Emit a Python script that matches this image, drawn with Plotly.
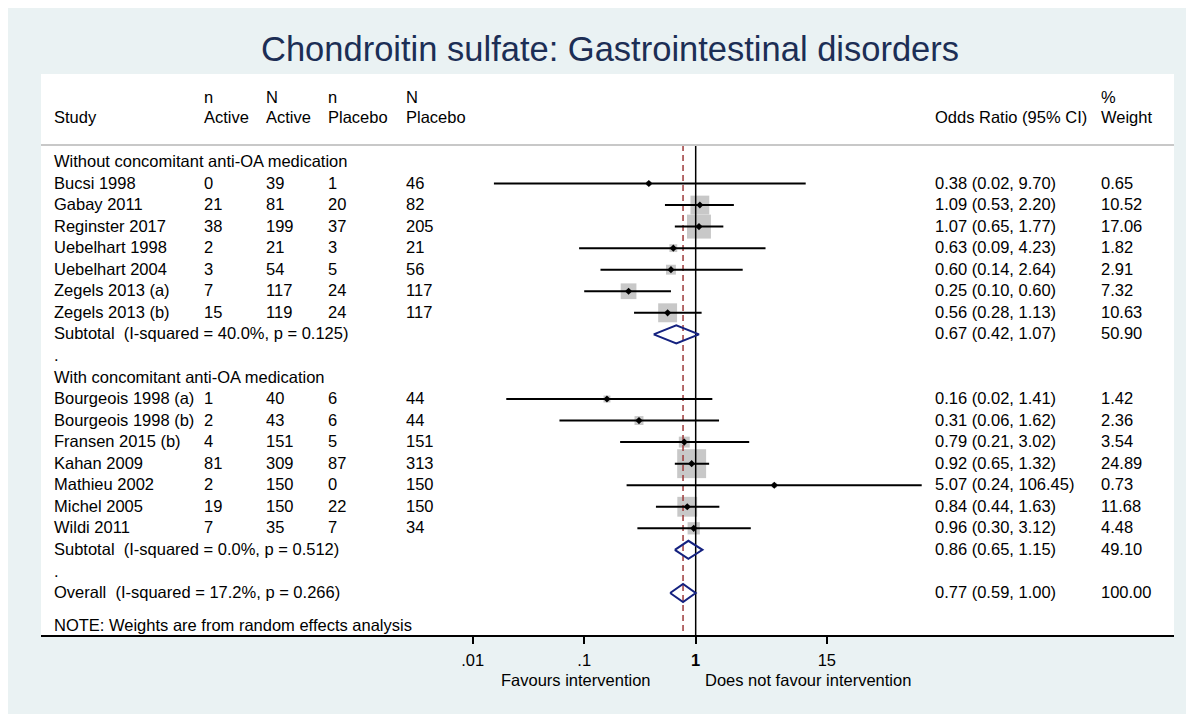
import plotly.graph_objects as go

# ---- data ----
title_text = "Chondroitin sulfate: Gastrointestinal disorders"

group1_label = "Without concomitant anti-OA medication"
group1_studies = ["Bucsi 1998", "Gabay 2011", "Reginster 2017", "Uebelhart 1998",
                  "Uebelhart 2004", "Zegels 2013 (a)", "Zegels 2013 (b)"]
group1_n_active = [0, 21, 38, 2, 3, 7, 15]
group1_N_active = [39, 81, 199, 21, 54, 117, 119]
group1_n_placebo = [1, 20, 37, 3, 5, 24, 24]
group1_N_placebo = [46, 82, 205, 21, 56, 117, 117]
group1_or = [0.38, 1.09, 1.07, 0.63, 0.60, 0.25, 0.56]
group1_lo = [0.0155, 0.53, 0.65, 0.09, 0.14, 0.10, 0.28]
group1_hi = [9.70, 2.20, 1.77, 4.23, 2.64, 0.60, 1.13]
group1_weight = [0.65, 10.52, 17.06, 1.82, 2.91, 7.32, 10.63]
group1_sub_label = "Subtotal  (I-squared = 40.0%, p = 0.125)"
group1_sub = [0.67, 0.42, 1.07, 50.90]

group2_label = "With concomitant anti-OA medication"
group2_studies = ["Bourgeois 1998 (a)", "Bourgeois 1998 (b)", "Fransen 2015 (b)", "Kahan 2009",
                  "Mathieu 2002", "Michel 2005", "Wildi 2011"]
group2_n_active = [1, 2, 4, 81, 2, 19, 7]
group2_N_active = [40, 43, 151, 309, 150, 150, 35]
group2_n_placebo = [6, 6, 5, 87, 0, 22, 7]
group2_N_placebo = [44, 44, 151, 313, 150, 150, 34]
group2_or = [0.16, 0.31, 0.79, 0.92, 5.07, 0.84, 0.96]
group2_lo = [0.02, 0.06, 0.21, 0.65, 0.24, 0.44, 0.30]
group2_hi = [1.41, 1.62, 3.02, 1.32, 106.45, 1.63, 3.12]
group2_weight = [1.42, 2.36, 3.54, 24.89, 0.73, 11.68, 4.48]
group2_sub_label = "Subtotal  (I-squared = 0.0%, p = 0.512)"
group2_sub = [0.86, 0.65, 1.15, 49.10]

overall_label = "Overall  (I-squared = 17.2%, p = 0.266)"
overall = [0.77, 0.59, 1.00, 100.00]
note_text = "NOTE: Weights are from random effects analysis"

tick_vals = [0.01, 0.1, 1, 15]
tick_text = [".01", ".1", "<b>1</b>", "15"]
favours_left = "Favours intervention"
favours_right = "Does not favour intervention"

# ---- layout helpers ----
# page has an 8px body margin (and a scrollbar gutter on the right)
W, H = 1178, 714
L, R, T, B = 33, 12, 66, 87
# plot area in page pixels: x 41..1174, y 74..635


def px(x):
    return (x - 41) / 1133


def py(y):
    return (635 - y) / 561


FONT = "Liberation Sans, Arial, sans-serif"
FS = 16.5
BG = "#EAF2F3"

# row layout: 0 header1, 1-7 group1, 8 subtotal, 9 '.', 10 header2, 11-17 group2,
# 18 subtotal, 19 '.', 20 overall
rows1 = list(range(1, 8))
rows2 = list(range(11, 18))
HEAD_LINE = -0.79
Y_TOP, Y_BOT = -4.08, 21.95
TXT_DY = -0.04  # tiny nudge so text sits on the row centre

col_x = {"study": 52, "na": 202, "Na": 264, "np": 326, "Np": 404, "or": 933, "w": 1099}

annotations = []


def txt(x, row, s, **kw):
    d = dict(x=px(x), xref="paper", y=row + TXT_DY, yref="y", text=s, showarrow=False,
             xanchor="left", yanchor="middle", font=dict(family=FONT, size=FS, color="black"))
    d.update(kw)
    annotations.append(d)


def ci_text(o, lo, hi):
    return f"{o:.2f} ({lo:.2f}, {hi:.2f})"


# column headers
txt(col_x["study"], -2.03, "Study")
for key, top, bottom in [("na", "n", "Active"), ("Na", "N", "Active"),
                         ("np", "n", "Placebo"), ("Np", "N", "Placebo"), ("w", "%", "Weight")]:
    txt(col_x[key], -2.97, top)
    txt(col_x[key], -2.03, bottom)
txt(col_x["or"], -2.03, "Odds Ratio (95% CI)")

groups = [
    (0, group1_label, rows1, group1_studies, group1_n_active, group1_N_active, group1_n_placebo,
     group1_N_placebo, group1_or, group1_lo, group1_hi, group1_weight, 8, group1_sub_label, group1_sub),
    (10, group2_label, rows2, group2_studies, group2_n_active, group2_N_active, group2_n_placebo,
     group2_N_placebo, group2_or, group2_lo, group2_hi, group2_weight, 18, group2_sub_label, group2_sub),
]

ci_x, ci_y = [], []
pt_x, pt_y, box_size = [], [], []
diamonds = []

for (hrow, hlabel, rws, studies, na, Na, np_, Np, ors, los, his, ws, srow, slabel, sub) in groups:
    txt(col_x["study"], hrow, hlabel)
    for r, s, a, b, c, d, o, lo, hi, w in zip(rws, studies, na, Na, np_, Np, ors, los, his, ws):
        txt(col_x["study"], r, s)
        txt(col_x["na"], r, str(a))
        txt(col_x["Na"], r, str(b))
        txt(col_x["np"], r, str(c))
        txt(col_x["Np"], r, str(d))
        txt(col_x["or"], r, ci_text(o, lo, hi))
        txt(col_x["w"], r, f"{w:.2f}")
        ci_x += [lo, hi, None]
        ci_y += [r, r, None]
        pt_x.append(o)
        pt_y.append(r)
        box_size.append(5.8 * w ** 0.5)
    txt(col_x["study"], srow, slabel)
    txt(col_x["or"], srow, ci_text(*sub[:3]))
    txt(col_x["w"], srow, f"{sub[3]:.2f}")
    txt(col_x["study"], srow + 1, ".")
    diamonds.append((srow, sub))

txt(col_x["study"], 20, overall_label)
txt(col_x["or"], 20, ci_text(*overall[:3]))
txt(col_x["w"], 20, f"{overall[3]:.2f}")
diamonds.append((20, overall))
txt(col_x["study"], 21.53, note_text)

# title and favours labels
annotations.append(dict(x=px(610), xref="paper", y=py(49), yref="paper", text=title_text,
                        showarrow=False, xanchor="center", yanchor="middle",
                        font=dict(family=FONT, size=34.5, color="#1C2E55")))
annotations.append(dict(x=px(653), xref="paper", y=py(680), yref="paper", text=favours_left,
                        showarrow=False, xanchor="right", yanchor="middle",
                        font=dict(family=FONT, size=FS, color="black")))
annotations.append(dict(x=px(703), xref="paper", y=py(680), yref="paper", text=favours_right,
                        showarrow=False, xanchor="left", yanchor="middle",
                        font=dict(family=FONT, size=FS, color="black")))

fig = go.Figure()

# gray weight boxes
fig.add_trace(go.Scatter(x=pt_x, y=pt_y, mode="markers",
                         marker=dict(symbol="square", size=box_size, color="#B1B1B1",
                                     line=dict(width=0)), hoverinfo="skip"))
# reference line at 1
fig.add_trace(go.Scatter(x=[1, 1], y=[HEAD_LINE, Y_BOT], mode="lines",
                         line=dict(color="black", width=1.5), hoverinfo="skip"))
# overall estimate dashed line
fig.add_trace(go.Scatter(x=[overall[0], overall[0]], y=[HEAD_LINE, Y_BOT], mode="lines",
                         line=dict(color="#9E3A3A", width=1.5, dash="6px,4px"), hoverinfo="skip"))
# confidence intervals
fig.add_trace(go.Scatter(x=ci_x, y=ci_y, mode="lines",
                         line=dict(color="black", width=2), hoverinfo="skip"))
# point estimates
fig.add_trace(go.Scatter(x=pt_x, y=pt_y, mode="markers",
                         marker=dict(symbol="diamond", size=5.5, color="black"), hoverinfo="skip"))
# pooled diamonds
for r, (o, lo, hi, _) in diamonds:
    fig.add_trace(go.Scatter(x=[lo, o, hi, o, lo], y=[r, r - 0.42, r, r + 0.42, r], mode="lines",
                             line=dict(color="#14217F", width=2), hoverinfo="skip"))

shapes = [
    # header separator
    dict(type="line", xref="paper", yref="y", x0=0, x1=1, y0=HEAD_LINE, y1=HEAD_LINE,
         line=dict(color="#C8C8C8", width=2)),
]

fig.update_layout(
    width=W, height=H,
    margin=dict(l=L, r=R, t=T, b=B, pad=0),
    paper_bgcolor=BG, plot_bgcolor="white",
    showlegend=False,
    annotations=annotations,
    shapes=shapes,
    xaxis=dict(type="log", range=[-5.872, 4.290], tickvals=tick_vals, ticktext=tick_text,
               ticks="outside", ticklen=7, tickwidth=1.5, tickcolor="black",
               ticklabelstandoff=2,
               showline=True, linecolor="black", linewidth=2, showgrid=False, zeroline=False,
               tickfont=dict(family=FONT, size=FS, color="black")),
    yaxis=dict(range=[Y_BOT, Y_TOP], visible=False, showgrid=False, zeroline=False),
)

fig.write_html("out.html")
